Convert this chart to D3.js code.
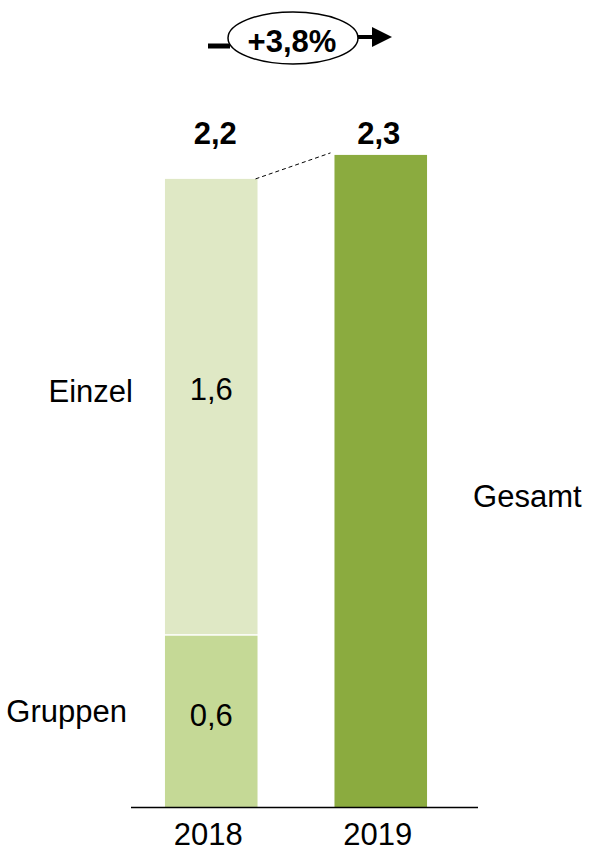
<!DOCTYPE html>
<html>
<head>
<meta charset="utf-8">
<script src="https://cdn.jsdelivr.net/npm/d3@7"></script>
<style>
    body { margin: 0; background: #fff; }
    svg text { font-family: "Liberation Sans", Arial, sans-serif; }
</style>
</head>
<body>
<svg id="chart" width="589" height="847"></svg>
<script>

// data
var years = ["2018", "2019"];
var gruppen = [0.6, 0];
var einzel = [1.6, 0];
var gesamt = [0, 2.284];
var totalLabels = ["2,2", "2,3"];
var gruppenLabels = ["0,6", ""];
var einzelLabels = ["1,6", ""];
var growthLabel = "+3,8%";

var colEinzel = "#dfe8c5",
    colGruppen = "#c5d996",
    colGesamt = "#8bab3f";

var fs = 31;

// The svg
var svg = d3.select("#chart"),
    width = +svg.attr("width"),
    height = +svg.attr("height");

// scales
var x = d3.scaleBand()
    .domain(years)
    .range([88, 504])
    .paddingInner(0.454)
    .paddingOuter(0.454);

var y = d3.scaleLinear()
    .domain([0, 2.5])
    .range([807, 93.25]);

var bw = x.bandwidth();

//stacked bar 2018
var rows = years.map(function(d, i) {
    return { year: d, g: gruppen[i], e: einzel[i], t: gesamt[i] };
});

svg.append("g")
    .selectAll("rect")
    .data(rows.filter(function(d) { return d.g > 0; }))
    .enter()
    .append("rect")
    .attr("x", function(d) { return x(d.year); })
    .attr("y", function(d) { return y(d.g); })
    .attr("width", bw)
    .attr("height", function(d) { return y(0) - y(d.g); })
    .attr("fill", colGruppen);

svg.append("g")
    .selectAll("rect")
    .data(rows.filter(function(d) { return d.e > 0; }))
    .enter()
    .append("rect")
    .attr("x", function(d) { return x(d.year); })
    .attr("y", function(d) { return y(d.g + d.e); })
    .attr("width", bw)
    .attr("height", function(d) { return y(d.g) - y(d.g + d.e) - 1.5; })
    .attr("fill", colEinzel);

//total bar 2019
svg.append("g")
    .selectAll("rect")
    .data(rows.filter(function(d) { return d.t > 0; }))
    .enter()
    .append("rect")
    .attr("x", function(d) { return x(d.year); })
    .attr("y", function(d) { return y(d.t); })
    .attr("width", bw)
    .attr("height", function(d) { return y(0) - y(d.t); })
    .attr("fill", colGesamt);

// baseline
svg.append("line")
    .attr("x1", 131)
    .attr("x2", 478)
    .attr("y1", y(0) + 0.5)
    .attr("y2", y(0) + 0.5)
    .attr("stroke", "#000")
    .attr("stroke-width", 1.5);

// year labels
svg.append("g")
    .selectAll("text")
    .data(years)
    .enter()
    .append("text")
    .attr("x", function(d) { return x(d) + bw / 2 - 3; })
    .attr("y", 845)
    .attr("text-anchor", "middle")
    .attr("font-size", fs)
    .text(function(d) { return d; });

// totals above bars
svg.append("g")
    .selectAll("text")
    .data(totalLabels)
    .enter()
    .append("text")
    .attr("x", function(d, i) { return x(years[i]) + bw / 2 + (i == 0 ? 4 : -2); })
    .attr("y", 144)
    .attr("text-anchor", "middle")
    .attr("font-size", fs)
    .attr("font-weight", "bold")
    .text(function(d) { return d; });

// segment values
var x18 = x(years[0]) + bw / 2;
svg.append("text")
    .attr("x", x18)
    .attr("y", y(gruppen[0] + einzel[0] / 2) - 7)
    .attr("text-anchor", "middle")
    .attr("font-size", fs)
    .text(einzelLabels[0]);

svg.append("text")
    .attr("x", x18)
    .attr("y", y(gruppen[0] / 2) + 5)
    .attr("text-anchor", "middle")
    .attr("font-size", fs)
    .text(gruppenLabels[0]);

// series names
svg.append("text")
    .attr("x", x(years[0]) - 32)
    .attr("y", 402)
    .attr("text-anchor", "end")
    .attr("font-size", fs)
    .text("Einzel");

svg.append("text")
    .attr("x", x(years[0]) - 38)
    .attr("y", 722)
    .attr("text-anchor", "end")
    .attr("font-size", fs)
    .text("Gruppen");

svg.append("text")
    .attr("x", x(years[1]) + bw + 46)
    .attr("y", 507)
    .attr("font-size", fs)
    .text("Gesamt");

// dashed connector between bar tops
svg.append("line")
    .attr("x1", x(years[0]) + bw - 2)
    .attr("y1", y(gruppen[0] + einzel[0]))
    .attr("x2", x(years[1]) - 4)
    .attr("y2", y(gesamt[1]) - 2)
    .attr("stroke", "#000")
    .attr("stroke-width", 1)
    .attr("stroke-dasharray", "4,3");

// growth arrow with ellipse
var arrow = svg.append("g");

arrow.append("line")
    .attr("x1", 208).attr("y1", 46)
    .attr("x2", 230).attr("y2", 46)
    .attr("stroke", "#000")
    .attr("stroke-width", 5);

arrow.append("line")
    .attr("x1", 356).attr("y1", 37)
    .attr("x2", 376).attr("y2", 37)
    .attr("stroke", "#000")
    .attr("stroke-width", 4);

arrow.append("path")
    .attr("d", "M372,27 L392,37 L372,47 Z")
    .attr("fill", "#000");

arrow.append("ellipse")
    .attr("cx", 293)
    .attr("cy", 38)
    .attr("rx", 65)
    .attr("ry", 26)
    .attr("fill", "#fff")
    .attr("stroke", "#000")
    .attr("stroke-width", 1.5);

arrow.append("text")
    .attr("x", 292)
    .attr("y", 52)
    .attr("text-anchor", "middle")
    .attr("font-size", fs)
    .attr("font-weight", "bold")
    .text(growthLabel);

</script>
</body>
</html>
